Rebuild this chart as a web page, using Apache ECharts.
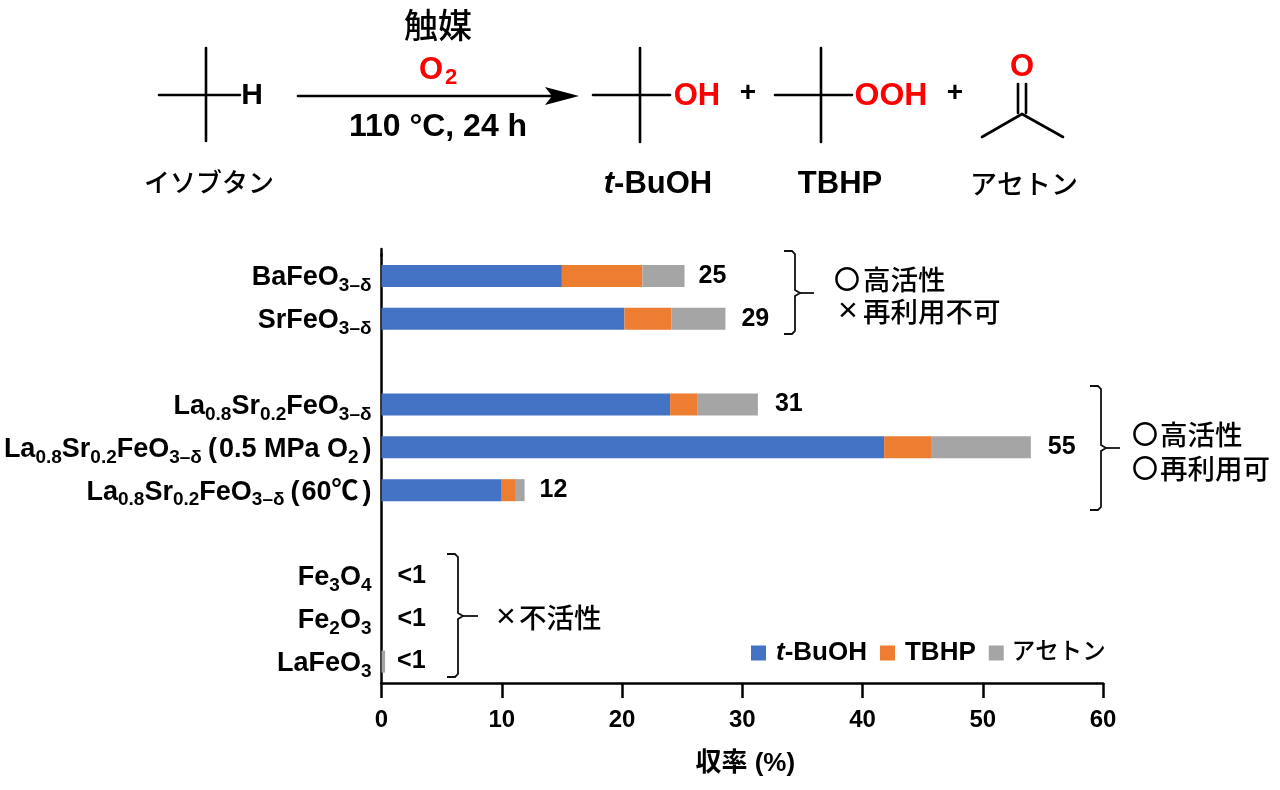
<!DOCTYPE html>
<html><head><meta charset="utf-8">
<style>html,body{margin:0;padding:0;background:#fff}#c{width:1280px;height:790px}</style>
<script src="https://cdn.jsdelivr.net/npm/echarts@6/dist/echarts.min.js"></script>
</head><body><div id="c"></div>
<script>
const FONT = '"Liberation Sans","Noto Sans CJK JP",sans-serif';
const categories = [
  '{n|BaFeO}{s|3–δ}',
  '{n|SrFeO}{s|3–δ}',
  '',
  '{n|La}{s|0.8}{n|Sr}{s|0.2}{n|FeO}{s|3–δ}',
  '{n|La}{s|0.8}{n|Sr}{s|0.2}{n|FeO}{s|3–δ}{q|(}{n|0.5 MPa O}{s|2}{p|)}',
  '{n|La}{s|0.8}{n|Sr}{s|0.2}{n|FeO}{s|3–δ}{q|(}{n|60℃}{p|)}',
  '',
  '{n|Fe}{s|3}{n|O}{s|4}',
  '{n|Fe}{s|2}{n|O}{s|3}',
  '{n|LaFeO}{s|3}'
];
const tBuOH  = [15.0, 20.2, null, 24.0, 41.8, 10.0, null, 0, 0, 0];
const TBHP   = [6.7, 3.9, null, 2.3, 3.9, 1.1, null, 0, 0, 0];
const acetone= [3.5, 4.5, null, 5.0, 8.3, 0.8, null, 0, 0, 0.3];
const totals = ['25', '29', '', '31', '55', '12', '', '<1', '<1', '<1'];
const labelGaps = [14, 16, 0, 17, 17, 15, 0, 16, 16, 12];
const xTicks = {min: 0, max: 60, interval: 10};

const legendNames = ['t-BuOH', 'TBHP', 'アセトン'];
const colors = ['#4472C4', '#ED7D31', '#A5A5A5'];

function txt(text, x, y, size, o) {
  o = o || {};
  return {type: 'text', silent: true, style: Object.assign({
    text, x, y, fill: o.fill || '#000', align: o.align || 'center', verticalAlign: 'middle',
    font: (o.weight || 'bold') + ' ' + size + 'px ' + FONT
  }, o.rich ? {rich: o.rich} : {})};
}
function ln(x1, y1, x2, y2, w) {
  return {type: 'line', silent: true, shape: {x1, y1, x2, y2},
    style: {stroke: '#000', lineWidth: w || 2.6, lineCap: 'round'}};
}
function brace(xa, xb, top, mid, bot, tip) {
  const pts = [[xa, top], [xb - 3, top], [xb, top + 3], [xb, mid - 3], [xb + 5, mid], [xb, mid + 3], [xb, bot - 3], [xb - 3, bot], [xa, bot]];
  return [
    {type: 'polyline', silent: true, shape: {points: pts}, style: {stroke: '#111', lineWidth: 1.8, fill: null}},
    {type: 'line', silent: true, shape: {x1: xb + 5, y1: mid, x2: tip, y2: mid}, style: {stroke: '#111', lineWidth: 1.8}}
  ];
}
const itRich = {i: {fontStyle: 'italic', fontWeight: 'bold', fontSize: 31, fontFamily: FONT},
                n: {fontWeight: 'bold', fontSize: 31, fontFamily: FONT}};
const M = {weight: '500', align: 'left'};
const X = {weight: 'normal', align: 'left'};
const graphics = [
  // isobutane
  ln(159, 95, 240, 95), ln(206, 48, 206, 141), txt('H', 252, 96, 30),
  // arrow
  ln(298, 96, 560, 96),
  {type: 'polygon', silent: true, shape: {points: [[545,87],[579,96],[545,105],[552,96]]}, style: {fill: '#000'}},
  txt('触媒', 438, 29, 34, {weight: '500'}),
  txt('O', 431, 70, 31, {fill: '#FF0000'}), txt('2', 451, 78, 22, {fill: '#FF0000'}),
  txt('110 °C, 24 h', 438, 127, 32),
  txt('イソブタン', 209, 185, 26, {weight: '500'}),
  // t-BuOH
  ln(593, 95, 670, 95), ln(640, 48, 640, 142), txt('OH', 697, 96, 31, {fill: '#FF0000'}),
  txt('+', 748, 93, 28),
  // TBHP
  ln(775, 95, 852, 95), ln(821, 48, 821, 142), txt('OOH', 891, 96, 32, {fill: '#FF0000'}),
  txt('+', 955, 93, 28),
  // acetone
  txt('O', 1022, 67, 31, {fill: '#FF0000'}),
  ln(1018, 84, 1018, 113), ln(1026, 84, 1026, 113),
  ln(982, 137, 1022, 114), ln(1022, 114, 1063, 137),
  txt('{i|t}{n|-BuOH}', 658, 184, 31, {rich: itRich}),
  txt('TBHP', 840, 184, 31),
  txt('アセトン', 1024, 187, 27, {weight: '500'}),
  // y axis top stub
  ln(381.5, 249, 381.5, 256, 2.5),
  // notes
  txt('〇', 834, 282, 26, M), txt('高活性', 863, 282, 27.5, M),
  txt('×', 838, 312, 34, X), txt('再利用不可', 863, 314, 27.5, M),
  txt('〇', 1132, 437, 26, M), txt('高活性', 1160, 437, 27.5, M),
  txt('〇', 1132, 471, 26, M), txt('再利用可', 1160, 471, 27.5, M),
  txt('×', 496, 618, 34, X), txt('不活性', 519, 620, 27.5, M)
].concat(
  brace(784, 795, 251, 293, 334, 814),
  brace(1090, 1101, 386, 448, 510, 1120),
  brace(447, 458, 554, 616, 677, 478)
);

const chart = echarts.init(document.getElementById('c'), null, {renderer: 'canvas'});
function barSeries(name, data, idx, label) {
  return {name, type: 'bar', stack: 'y', data, barWidth: 22, silent: true,
    itemStyle: {color: colors[idx]}, label: label || {show: false}};
}
const nameBase = {fontWeight: 'bold', fontSize: 26, fontFamily: FONT, color: '#000'};
const catBase = {fontSize: 27, fontWeight: 'bold', fontFamily: FONT, color: '#000', lineHeight: 27, verticalAlign: 'top'};
chart.setOption({
  animation: false,
  backgroundColor: '#fff',
  grid: {left: 381.5, right: 1280 - 1103, top: 254.5, bottom: 790 - 683, containLabel: false},
  legend: {
    left: 751, top: 640, padding: 0, itemWidth: 15, itemHeight: 15, itemGap: 13, icon: 'rect',
    data: legendNames, selectedMode: false,
    formatter: n => n === 't-BuOH' ? '{i|t}{b|-BuOH}' : (n === 'TBHP' ? '{c|TBHP}' : '{j|アセトン}'),
    textStyle: {rich: {
      i: Object.assign({}, nameBase, {fontStyle: 'italic', padding: [0, 0, 0, 5]}),
      b: nameBase,
      c: Object.assign({}, nameBase, {padding: [0, 0, 0, 5]}),
      j: {fontSize: 23.5, fontWeight: 500, fontFamily: FONT, color: '#000', padding: [0, 0, 0, 3]}
    }}
  },
  xAxis: {
    type: 'value', min: xTicks.min, max: xTicks.max, interval: xTicks.interval,
    splitLine: {show: false},
    axisLine: {show: true, onZero: false, lineStyle: {color: '#000', width: 2.5}},
    axisTick: {show: true, length: 15, lineStyle: {color: '#000', width: 2.5}},
    axisLabel: {color: '#000', fontSize: 24, fontWeight: 'bold', fontFamily: FONT, margin: 25},
    name: '収率 (%)', nameLocation: 'middle', nameGap: 68,
    nameTextStyle: {color: '#000', fontSize: 26, fontWeight: 'bold', fontFamily: FONT, padding: [0, 0, 0, 6]}
  },
  yAxis: {
    type: 'category', inverse: true, data: categories,
    axisLine: {show: true, onZero: false, lineStyle: {color: '#000', width: 2.5}},
    axisTick: {show: false},
    axisLabel: {
      interval: 0, margin: 10, color: '#000', align: 'right', padding: [0, 0, 4, 0],
      rich: {
        n: Object.assign({}, catBase, {padding: [4, 0, 0, 0]}),
        p: Object.assign({}, catBase, {padding: [4, 0, 0, 4]}),
        q: Object.assign({}, catBase, {padding: [4, 2, 0, 6]}),
        s: {fontSize: 19, fontWeight: 'bold', fontFamily: FONT, color: '#000', lineHeight: 19, verticalAlign: 'top', padding: [16, 0, 0, 0]}
      }
    }
  },
  series: [
    barSeries('t-BuOH', tBuOH, 0),
    barSeries('TBHP', TBHP, 1),
    barSeries('アセトン', acetone.map((v, i) => ({value: v, label: {distance: labelGaps[i]}})), 2, {
      show: true, position: 'right', color: '#000', fontSize: 25, fontWeight: 'bold', fontFamily: FONT,
      formatter: p => totals[p.dataIndex]
    })
  ],
  graphic: {elements: graphics}
});
</script></body></html>
